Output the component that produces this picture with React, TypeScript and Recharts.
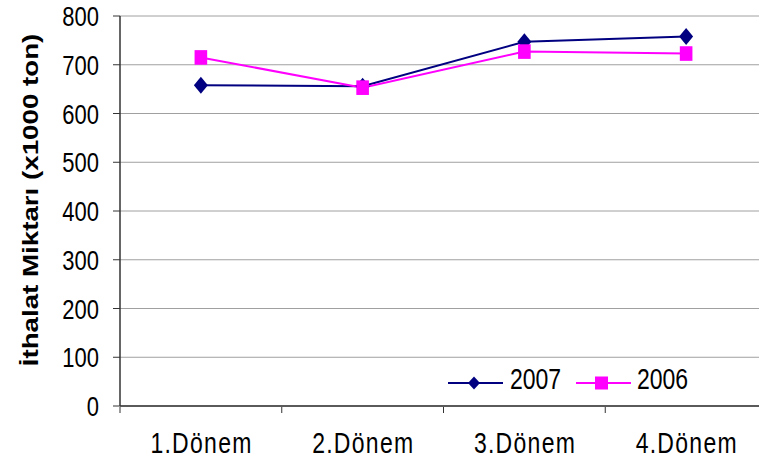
import { LineChart, Line, XAxis, YAxis, CartesianGrid, Legend } from "recharts";

const categories = ["1.Dönem", "2.Dönem", "3.Dönem", "4.Dönem"];
const values2007 = [658, 656, 747, 758];
const values2006 = [715, 653, 727, 723];
const yTicks = [0, 100, 200, 300, 400, 500, 600, 700, 800];
const xBoundaries = [0, 1, 2, 3, 4];

const data = categories.map((c, i) => ({
  name: c,
  pos: i + 0.5,
  y2007: values2007[i],
  y2006: values2006[i],
}));

const NAVY = "#000080";
const MAGENTA = "#FF00FF";
const FONT = "'Liberation Sans', Arial, sans-serif";
// the reference text is taller than it is wide
const K = 1.26;

function Stretch({ x, y, size, anchor = "start", bold = false, rotate = false, length, children }: any) {
  const t = rotate
    ? `translate(${x},${y}) scale(1,${K}) rotate(-90)`
    : `translate(${x},${y}) scale(1,${K})`;
  return (
    <g transform={t}>
      <text
        x={0}
        y={0}
        textAnchor={anchor}
        fontSize={size}
        fontWeight={bold ? "bold" : "normal"}
        fontFamily={FONT}
        fill="#000"
        textLength={length}
        lengthAdjust={length ? "spacing" : undefined}
      >
        {children}
      </text>
    </g>
  );
}

function Diamond({ cx, cy, w = 7, h = 8.5 }: any) {
  if (cx == null || cy == null) return null;
  return (
    <path d={`M${cx},${cy - h}L${cx + w},${cy}L${cx},${cy + h}L${cx - w},${cy}Z`} fill={NAVY} />
  );
}

function Square({ cx, cy, w = 6.3, h = 7.3 }: any) {
  if (cx == null || cy == null) return null;
  return <rect x={cx - w} y={cy - h} width={w * 2} height={h * 2} fill={MAGENTA} />;
}

// tick marks on category boundaries, labels centred in each category
function XTick({ x, y, index }: any) {
  const step = 161.75;
  const label = categories[index];
  return (
    <g>
      <line x1={x} y1={y + 1} x2={x} y2={y + 7} stroke="#333" strokeWidth={1} />
      {label && (
        <Stretch x={x + step / 2} y={y + 46.5} size={23} anchor="middle" length={101}>
          {label}
        </Stretch>
      )}
    </g>
  );
}

function YTick({ x, y, payload }: any) {
  return (
    <Stretch x={x} y={y + 10} size={22} anchor="end">
      {payload.value}
    </Stretch>
  );
}

function LegendBox() {
  return (
    <svg width={260} height={34} style={{ display: "block", overflow: "visible" }}>
      <line x1={2} y1={15} x2={57} y2={15} stroke={NAVY} strokeWidth={2} />
      <Diamond cx={28} cy={15} w={6} h={6.5} />
      <Stretch x={64} y={20.5} size={23}>2007</Stretch>
      <line x1={130} y1={15} x2={185} y2={15} stroke={MAGENTA} strokeWidth={2} />
      <Square cx={155.5} cy={15} w={6.5} h={6.5} />
      <Stretch x={191} y={20.5} size={23}>2006</Stretch>
    </svg>
  );
}

export default function App() {
  return (
    <div style={{ width: 759, height: 461, overflow: "hidden", background: "#fff", position: "absolute", left: 0, top: 0 }}>
      <LineChart width={775} height={461} data={data} margin={{ top: 16, right: 8, left: 0, bottom: 0 }}>
        <CartesianGrid horizontal vertical={false} stroke="#a0a0a0" />
        <XAxis
          dataKey="pos"
          type="number"
          domain={[0, 4]}
          ticks={xBoundaries}
          interval={0}
          height={55}
          tickSize={0}
          tickMargin={0}
          axisLine={{ stroke: "#333", strokeWidth: 1.5 }}
          tickLine={false}
          tick={<XTick />}
        />
        <YAxis
          width={120}
          domain={[0, 800]}
          ticks={yTicks}
          interval={0}
          tickSize={7}
          tickMargin={14}
          axisLine={{ stroke: "#333", strokeWidth: 1.5 }}
          tickLine={{ stroke: "#333" }}
          tick={<YTick />}
          label={{
            content: () => (
              <Stretch x={38} y={200} size={22} anchor="middle" bold rotate>
                İthalat Miktarı (x1000 ton)
              </Stretch>
            ),
          }}
        />
        <Legend
          layout="horizontal"
          verticalAlign="middle"
          content={<LegendBox />}
          wrapperStyle={{ position: "absolute", left: 446, top: 368, width: 260, height: 34 }}
        />
        <Line dataKey="y2007" stroke={NAVY} strokeWidth={2} dot={<Diamond />} isAnimationActive={false} />
        <Line dataKey="y2006" stroke={MAGENTA} strokeWidth={2} dot={<Square />} isAnimationActive={false} />
      </LineChart>
    </div>
  );
}
